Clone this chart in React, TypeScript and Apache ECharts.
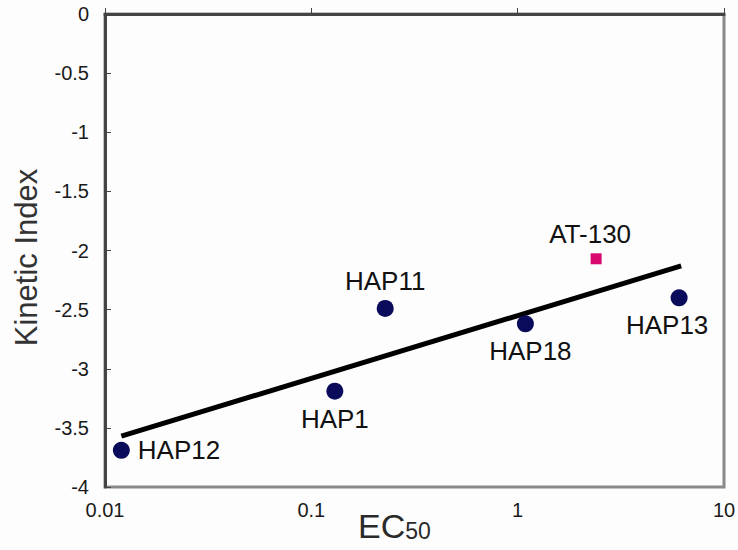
import React, { useEffect, useRef } from "react";
import * as echarts from "echarts";

const hapNames = ["HAP12", "HAP1", "HAP11", "HAP18", "HAP13"];
const hapEC50 = [0.012, 0.13, 0.228, 1.09, 6.06];
const hapKinetic = [-3.69, -3.19, -2.49, -2.62, -2.4];
const hapLabelPos = ["right", "bottom", "top", "bottom", "bottom"];

const refName = "AT-130";
const refEC50 = [2.4];
const refKinetic = [-2.07];

const trendEC50 = [0.012, 6.2];
const trendKinetic = [-3.57, -2.13];

const yTicks = [0, -0.5, -1, -1.5, -2, -2.5, -3, -3.5, -4];

export default function App() {
  const ref = useRef<HTMLDivElement>(null);
  useEffect(() => {
    const chart = echarts.init(ref.current!, null, { renderer: "svg" });
    const font = "'Liberation Sans', Arial, sans-serif";
    const labelOffsets: Record<string, number[]> = {
      HAP12: [0, 0],
      HAP1: [0, 0],
      HAP11: [0, 0],
      HAP18: [5, 0],
      HAP13: [-12, 0],
    };
    chart.setOption({
      animation: false,
      backgroundColor: "#fdfdfd",
      grid: {
        left: 105,
        right: 14,
        top: 14,
        bottom: 63,
        containLabel: false,
        outerBoundsMode: "none",
        show: true,
        borderColor: "#8a8a8a",
        borderWidth: 3,
        backgroundColor: "transparent",
      },
      xAxis: {
        type: "log",
        logBase: 10,
        min: 0.01,
        max: 10,
        name: "{a|EC}{b|50}",
        nameLocation: "middle",
        nameGap: 22,
        nameMoveOverlap: false,
        nameTextStyle: {
          padding: [0, 40, 0, 0],
          rich: {
            a: { fontSize: 34, lineHeight: 34, verticalAlign: "bottom", color: "#2a2a2a", fontFamily: font },
            b: { fontSize: 23, lineHeight: 34, verticalAlign: "bottom", color: "#2a2a2a", fontFamily: font, padding: [0, 0, 1, 0] },
          },
        },
        axisLine: { lineStyle: { color: "#444", width: 3 } },
        axisTick: { inside: true, length: 6, lineStyle: { color: "#444", width: 1 } },
        minorTick: { show: false },
        splitLine: { show: false },
        axisLabel: {
          fontSize: 20,
          color: "#1a1a1a",
          fontFamily: font,
          margin: 13,
          formatter: (v: number) => String(Number(v.toPrecision(2))),
        },
      },
      yAxis: {
        type: "value",
        min: -4,
        max: 0,
        interval: 0.5,
        name: "Kinetic Index",
        nameLocation: "middle",
        nameGap: 63,
        nameMoveOverlap: false,
        nameTextStyle: { fontSize: 31, color: "#333", fontFamily: font, padding: [0, 14, 0, 0] },
        axisLine: { lineStyle: { color: "#444", width: 3 } },
        axisTick: { inside: true, length: 6, lineStyle: { color: "#444", width: 1 } },
        splitLine: { show: false },
        axisLabel: {
          fontSize: 20,
          color: "#1a1a1a",
          fontFamily: font,
          margin: 16,
          formatter: (v: number) => (yTicks.includes(v) ? String(v) : ""),
        },
      },
      series: [
        {
          type: "line",
          data: trendEC50.map((x, i) => [x, trendKinetic[i]]),
          showSymbol: false,
          symbol: "none",
          lineStyle: { color: "#000", width: 5 },
          z: 1,
        },
        {
          type: "scatter",
          symbol: "circle",
          symbolSize: 17,
          itemStyle: { color: "#0a0b5a", opacity: 1 },
          data: hapNames.map((n, i) => ({
            name: n,
            value: [hapEC50[i], hapKinetic[i]],
            label: {
              show: true,
              position: hapLabelPos[i],
              distance: hapLabelPos[i] === "right" ? 8 : 6,
              offset: labelOffsets[n],
              formatter: n,
              fontSize: 26,
              color: "#111",
              fontFamily: font,
            },
          })),
          z: 3,
        },
        {
          type: "scatter",
          symbol: "rect",
          symbolSize: 11,
          itemStyle: { color: "#d9086f", opacity: 1 },
          data: refEC50.map((x, i) => ({
            name: refName,
            value: [x, refKinetic[i]],
            label: {
              show: true,
              position: "top",
              distance: 6,
              offset: [-6, 0],
              formatter: refName,
              fontSize: 26,
              color: "#111",
              fontFamily: font,
            },
          })),
          z: 3,
        },
      ],
    });
    return () => chart.dispose();
  }, []);
  return (
    <div
      ref={ref}
      style={{ position: "absolute", left: 0, top: 0, width: 738, height: 550 }}
    />
  );
}
